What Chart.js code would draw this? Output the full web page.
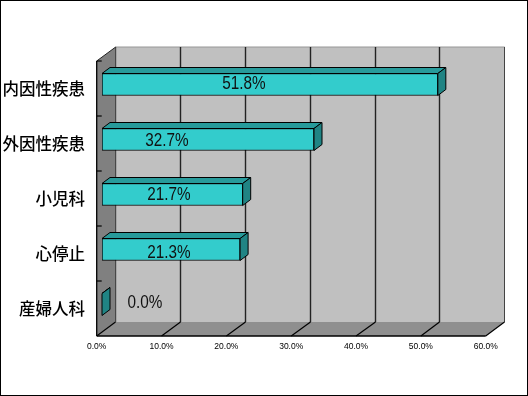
<!DOCTYPE html>
<html>
<head>
<meta charset="utf-8">
<style>
html, body { margin: 0; padding: 0; background: #fff; }
canvas { display: block; }
</style>
<script src="https://cdn.jsdelivr.net/npm/chart.js@4/dist/chart.umd.min.js"></script>
</head>
<body>
<canvas id="chart" width="528" height="396"></canvas>
<script>
const categories = ["内因性疾患", "外因性疾患", "小児科", "心停止", "産婦人科"];
const percentValues = [51.8, 32.7, 21.7, 21.3, 0.0];
const xTickValues = [0, 10, 20, 30, 40, 50, 60];

// the bars sit a little inside the box, these are the offsets to its faces
const frontDx = -5.3, frontDy = 4;
const backDx = 13.7, backDy = -10;
const barDepthX = 8, barDepthY = 6;

// where the value text sits, measured from the left of the bars
const labelLeft = [142, 65, 67, 67, 43];
const labelDown = [0, 1.5, 0.5, 3.5, -1];

function poly(ctx, pts, fill, stroke) {
    ctx.beginPath();
    pts.forEach((p, i) => i ? ctx.lineTo(p[0], p[1]) : ctx.moveTo(p[0], p[1]));
    ctx.closePath();
    ctx.fillStyle = fill;
    ctx.fill();
    if (stroke) {
        ctx.strokeStyle = stroke;
        ctx.lineWidth = 1;
        ctx.stroke();
    }
}

function line(ctx, x1, y1, x2, y2, color, width) {
    ctx.beginPath();
    ctx.moveTo(x1, y1);
    ctx.lineTo(x2, y2);
    ctx.strokeStyle = color;
    ctx.lineWidth = width || 1;
    ctx.stroke();
}

const box3d = {
    id: "box3d",
    beforeDraw(chart) {
        const ctx = chart.ctx;
        ctx.save();
        ctx.strokeStyle = "#000";
        ctx.lineWidth = 1;
        ctx.strokeRect(0.5, 0.5, 527, 395);
        ctx.restore();
    },
    beforeDatasetsDraw(chart) {
        const ctx = chart.ctx, x = chart.scales.x, area = chart.chartArea;
        const fl = area.left + frontDx, fr = area.right + frontDx;
        const ft = area.top + frontDy, fb = area.bottom + frontDy;
        const bl = area.left + backDx, br = area.right + backDx;
        const bt = area.top + backDy, bb = area.bottom + backDy;
        ctx.save();
        poly(ctx, [[bl, bt], [br, bt], [br, bb], [bl, bb]], "#c0c0c0");
        poly(ctx, [[fl, ft], [bl, bt], [bl, bb], [fl, fb]], "#808080");
        poly(ctx, [[fl, fb], [bl, bb], [br, bb], [fr, fb]], "#8f8f8f");
        line(ctx, bl, bt, br, bt, "#969696");
        xTickValues.forEach(v => {
            const px = x.getPixelForValue(v);
            const gx = Math.floor(px + backDx) + 0.5;
            if (v > 0) line(ctx, gx, bt, gx, bb, v === 60 ? "#444" : "#222", v === 60 ? 1 : 1.4);
            line(ctx, px + frontDx, fb, gx, bb, "#000", 1.2);
        });
        line(ctx, bl, bt, bl, bb, "#333");
        line(ctx, fl, ft, bl, bt, "#222");
        line(ctx, fl, ft, fl, fb, "#000", 1.3);
        line(ctx, fl, fb, fr, fb, "#000", 1.3);
        categories.forEach((c, i) => {
            const band = (fb - ft) / categories.length;
            line(ctx, fl, ft + band * i, fl + 5, ft + band * i, "#000", 1.2);
        });
        ctx.restore();
    },
    afterDatasetsDraw(chart) {
        const ctx = chart.ctx, area = chart.chartArea;
        const bars = chart.getDatasetMeta(0).data;
        ctx.save();
        bars.forEach((bar, i) => {
            const top = bar.y - bar.height / 2, bottom = bar.y + bar.height / 2;
            poly(ctx, [[bar.base, top], [bar.base + barDepthX, top - barDepthY],
                [bar.x + barDepthX, top - barDepthY], [bar.x, top]], "#279b9b", "#000");
            poly(ctx, [[bar.x, top], [bar.x + barDepthX, top - barDepthY],
                [bar.x + barDepthX, bottom - barDepthY], [bar.x, bottom]], "#208484", "#000");
        });
        ctx.fillStyle = "#111";
        ctx.font = "18px 'Liberation Sans'";
        ctx.textAlign = "center";
        ctx.textBaseline = "middle";
        bars.forEach((bar, i) => {
            // the reference text is tall and narrow, so squeeze it sideways
            ctx.save();
            ctx.translate(area.left + labelLeft[i], bar.y + labelDown[i]);
            ctx.scale(0.85, 1);
            ctx.fillText(percentValues[i].toFixed(1) + "%", 0, 0);
            ctx.restore();
        });
        ctx.restore();
    }
};

new Chart(document.getElementById("chart").getContext("2d"), {
    type: "bar",
    data: {
        labels: categories,
        datasets: [{
            data: percentValues,
            backgroundColor: "#33cccc",
            borderColor: "#000",
            borderWidth: 1,
            borderSkipped: false,
            barThickness: 22
        }]
    },
    options: {
        indexAxis: "y",
        responsive: false,
        animation: false,
        layout: { padding: { top: 57, right: 37, bottom: 0, left: 0 } },
        plugins: {
            legend: { display: false },
            tooltip: { enabled: false }
        },
        scales: {
            x: {
                min: 0,
                max: 60,
                afterFit: s => { s.height = 64; },
                afterBuildTicks: s => { s.ticks = xTickValues.map(v => ({ value: v })); },
                grid: { display: false, drawTicks: false },
                border: { display: false },
                ticks: {
                    color: "#000",
                    font: { family: "'Liberation Sans'", size: 8.5 },
                    padding: 10,
                    labelOffset: frontDx,
                    maxRotation: 0,
                    autoSkip: false,
                    callback: v => v.toFixed(1) + "%"
                }
            },
            y: {
                afterFit: s => { s.width = 102; },
                grid: { display: false, drawTicks: false },
                border: { display: false },
                ticks: {
                    color: "#000",
                    font: { family: "'Noto Sans CJK JP'", size: 16.5, weight: "500" },
                    crossAlign: "near",
                    padding: 17,
                    labelOffset: frontDy,
                    autoSkip: false
                }
            }
        }
    },
    plugins: [box3d]
});
</script>
</body>
</html>
